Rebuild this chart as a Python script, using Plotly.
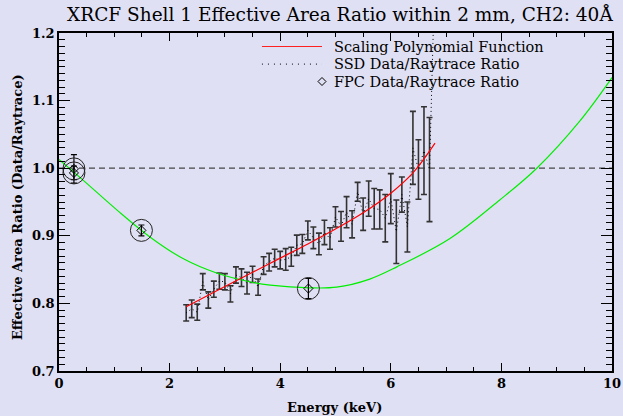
import plotly.graph_objects as go

# SSD data / raytrace ratio, one point every 0.1 keV
ssd_energy = [round(2.3 + 0.1 * i, 1) for i in range(46)]
ssd_ratio = [0.786, 0.792, 0.787, 0.832, 0.805, 0.821, 0.833, 0.832, 0.814, 0.842,
             0.838, 0.830, 0.843, 0.824, 0.856, 0.861, 0.867, 0.864, 0.865, 0.869,
             0.886, 0.888, 0.908, 0.897, 0.888, 0.905, 0.896, 0.928, 0.914, 0.935,
             0.917, 0.965, 0.932, 0.955, 0.940, 0.939, 0.926, 0.955, 0.906, 0.961,
             0.913, 1.030, 0.998, 1.026, 0.998, 1.300]
ssd_err = [0.012, 0.013, 0.012, 0.012, 0.012, 0.012, 0.012, 0.012, 0.012, 0.012,
           0.013, 0.016, 0.012, 0.012, 0.013, 0.013, 0.013, 0.013, 0.016, 0.014,
           0.015, 0.014, 0.014, 0.016, 0.016, 0.018, 0.016, 0.015, 0.022, 0.023,
           0.020, 0.014, 0.024, 0.026, 0.030, 0.029, 0.035, 0.037, 0.047, 0.026,
           0.037, 0.054, 0.044, 0.065, 0.077, 0.080]

# FPC data / raytrace ratio
fpc_energy = [0.27, 0.27, 1.49, 4.51]
fpc_ratio = [0.999, 0.993, 0.908, 0.822]
fpc_err = [0.021, 0.010, 0.008, 0.015]

# Scaling polynomial function (red)
poly_energy = [2.3, 3.0, 3.5, 4.0, 4.5, 5.0, 5.5, 6.0, 6.4, 6.8]
poly_ratio = [0.795, 0.825, 0.846, 0.867, 0.888, 0.910, 0.934, 0.963, 0.993, 1.037]

# FPC fit curve (green)
fit_energy = [0.0, 0.44, 1.05, 1.65, 2.25, 2.85, 3.45, 3.82, 4.54, 5.02, 5.62,
              6.11, 7.07, 7.97, 8.64, 9.42, 10.0]
fit_ratio = [1.013, 0.982, 0.938, 0.898, 0.866, 0.845, 0.832, 0.827, 0.823, 0.824,
             0.836, 0.854, 0.896, 0.953, 1.000, 1.070, 1.134]

BG = "#e0e0f4"
SERIF = "DejaVu Serif"

fig = go.Figure()

fig.add_trace(go.Scatter(
    x=ssd_energy, y=ssd_ratio, mode="lines",
    line=dict(color="black", width=1, dash="1px,3px"),
    error_y=dict(type="data", array=ssd_err, visible=True,
                 color="#333333", thickness=1.6, width=3),
    showlegend=False, hoverinfo="x+y"))

fig.add_trace(go.Scatter(
    x=fit_energy, y=fit_ratio, mode="lines", line_shape="spline",
    line=dict(color="#00ee00", width=1.2), showlegend=False))

fig.add_trace(go.Scatter(
    x=poly_energy, y=poly_ratio, mode="lines", line_shape="spline",
    line=dict(color="#ff0000", width=1.2), showlegend=False))

fig.add_trace(go.Scatter(
    x=fpc_energy, y=fpc_ratio, mode="markers",
    marker=dict(symbol="diamond-open", size=7, color="black", line=dict(width=1)),
    error_y=dict(type="data", array=fpc_err, visible=True,
                 color="black", thickness=1.2, width=3),
    showlegend=False))

fig.add_trace(go.Scatter(
    x=fpc_energy, y=fpc_ratio, mode="markers",
    marker=dict(symbol="circle-open", size=22, color="#222222", line=dict(width=1)),
    showlegend=False, hoverinfo="skip"))

# reference line at unity ratio
fig.add_shape(type="line", xref="x", yref="y", x0=0, x1=10, y0=1.0, y1=1.0,
              line=dict(color="#444444", width=1.2, dash="6px,4px"), layer="below")

# legend drawn in the upper part of the plot
legend_rows = [0.960, 0.908, 0.8565]
fig.add_shape(type="line", xref="paper", yref="paper", x0=0.367, x1=0.4756,
              y0=legend_rows[0], y1=legend_rows[0], line=dict(color="#ff2020", width=1.2))
fig.add_shape(type="line", xref="paper", yref="paper", x0=0.367, x1=0.4756,
              y0=legend_rows[1], y1=legend_rows[1],
              line=dict(color="black", width=1, dash="1px,5px"))
fig.add_shape(type="path", xref="paper", yref="paper", xsizemode="pixel",
              ysizemode="pixel", xanchor=0.4756, yanchor=legend_rows[2],
              path="M -4 0 L 0 4 L 4 0 L 0 -4 Z", line=dict(color="black", width=1))

legend_labels = ["Scaling Polynomial Function", "SSD Data/Raytrace Ratio",
                 "FPC Data/Raytrace Ratio"]
for label, yy in zip(legend_labels, legend_rows):
    fig.add_annotation(text=label, xref="paper", yref="paper", x=0.4955, y=yy,
                       xanchor="left", yanchor="middle", showarrow=False,
                       borderpad=0,
                       font=dict(family=SERIF, size=14.5, color="black"))

# axis titles
fig.add_annotation(text="<b>Energy (keV)</b>", xref="paper", yref="paper",
                   x=0.499, y=-0.109, xanchor="center", yanchor="middle",
                   showarrow=False, font=dict(family=SERIF, size=13, color="black"))
fig.add_annotation(text="<b>Effective Area Ratio (Data/Raytrace)</b>", xref="paper",
                   yref="paper", x=-0.076, y=0.485, xanchor="center", yanchor="middle",
                   textangle=-90, showarrow=False,
                   font=dict(family=SERIF, size=13, color="black"))

axis_common = dict(showline=True, linecolor="black", linewidth=1.5, mirror="ticks",
                   ticks="inside", tickcolor="black", showgrid=False, zeroline=False,
                   automargin=False,
                   tickfont=dict(family=SERIF, size=13, color="black", weight="bold"))

fig.update_xaxes(range=[0, 10], tickvals=[0, 2, 4, 6, 8, 10], ticklen=8, tickwidth=1.2,
                 minor=dict(dtick=0.5, tick0=0, ticklen=4, tickcolor="black",
                            ticks="inside", tickwidth=1),
                 **axis_common)
fig.update_yaxes(range=[0.7, 1.2], tickvals=[0.7, 0.8, 0.9, 1.0, 1.1, 1.2],
                 ticktext=["0.7", "0.8", "0.9", "1.0", "1.1", "1.2"],
                 ticklen=11, tickwidth=1.2,
                 minor=dict(dtick=0.01, tick0=0.7, ticklen=6, tickcolor="black",
                            ticks="inside", tickwidth=1),
                 **axis_common)

fig.update_layout(
    width=623, height=416,
    margin=dict(l=59, r=11, t=33, b=45),
    paper_bgcolor=BG, plot_bgcolor=BG,
    title=dict(text="XRCF Shell 1 Effective Area Ratio within 2 mm, CH2: 40Å",
               xref="paper", x=0.508, xanchor="center",
               yref="container", y=0.966, yanchor="middle",
               font=dict(family=SERIF, size=18.5, color="black")),
)

fig.write_html("out.html")
